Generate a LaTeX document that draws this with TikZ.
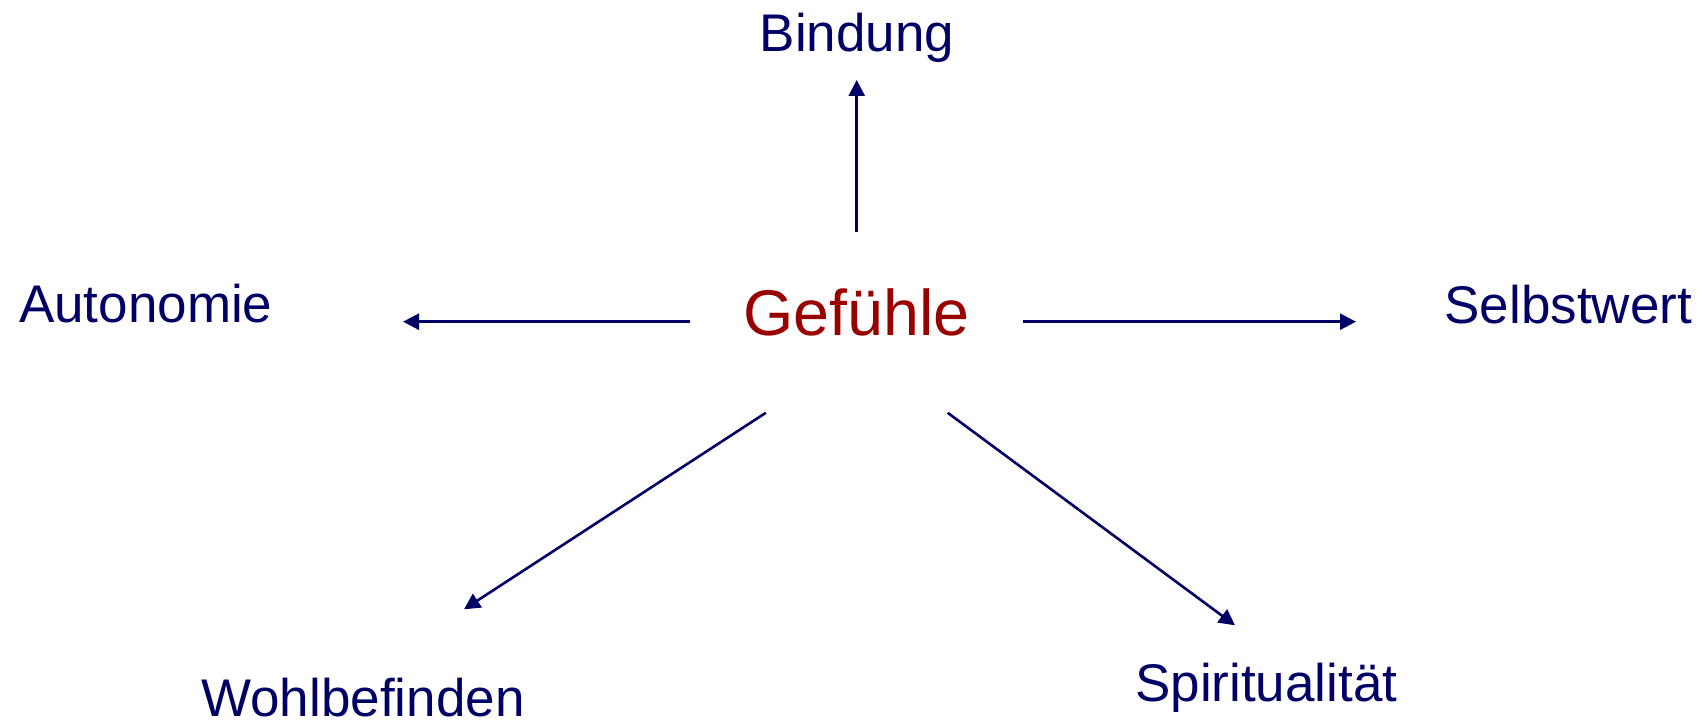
\documentclass[tikz,border=0pt]{standalone}
\usepackage{fontspec}
\setmainfont{Liberation Sans}
\usetikzlibrary{arrows.meta}
\definecolor{navy}{RGB}{0,0,102}
\definecolor{darkred}{RGB}{153,0,0}
\tikzset{
  lbl/.style={text=navy, font=\fontsize{26.5}{30}\selectfont, inner sep=0pt, anchor=base},
  center/.style={text=darkred, font=\fontsize{32.3}{36}\selectfont, inner sep=0pt, anchor=base},
  conn/.style={draw=navy, line width=1.3pt, -{Triangle[length=8pt,width=8pt]}}
}
\begin{document}
\begin{tikzpicture}[x=0.5pt,y=-0.5pt]
\useasboundingbox (0,0) rectangle (1708,722);
\node[center] (g) at (856.7,335) {Gefühle};
\node[lbl] (bind) at (857,52) {Bindung};
\node[lbl] (auto) at (145.8,322.7) {Autonomie};
\node[lbl] (selb) at (1568.3,323.3) {Selbstwert};
\node[lbl] (wohl) at (363,716) {Wohlbefinden};
\node[lbl] (spir) at (1266.3,701.7) {Spiritualität};
\coordinate (gTop) at (856.7,232);
\coordinate (bindEnd) at (856.7,80);
\coordinate (gLeft) at (690,321.7);
\coordinate (autoEnd) at (403,321.7);
\coordinate (gRight) at (1023,321.7);
\coordinate (selbEnd) at (1356,321.7);
\coordinate (gBL) at (765.8,412.8);
\coordinate (wohlEnd) at (464,609.3);
\coordinate (gBR) at (947.7,412.8);
\coordinate (spirEnd) at (1235,625.3);
\draw[conn] (gTop) -- (bindEnd);
\draw[conn] (gLeft) -- (autoEnd);
\draw[conn] (gRight) -- (selbEnd);
\draw[conn] (gBL) -- (wohlEnd);
\draw[conn] (gBR) -- (spirEnd);
\end{tikzpicture}
\end{document}
